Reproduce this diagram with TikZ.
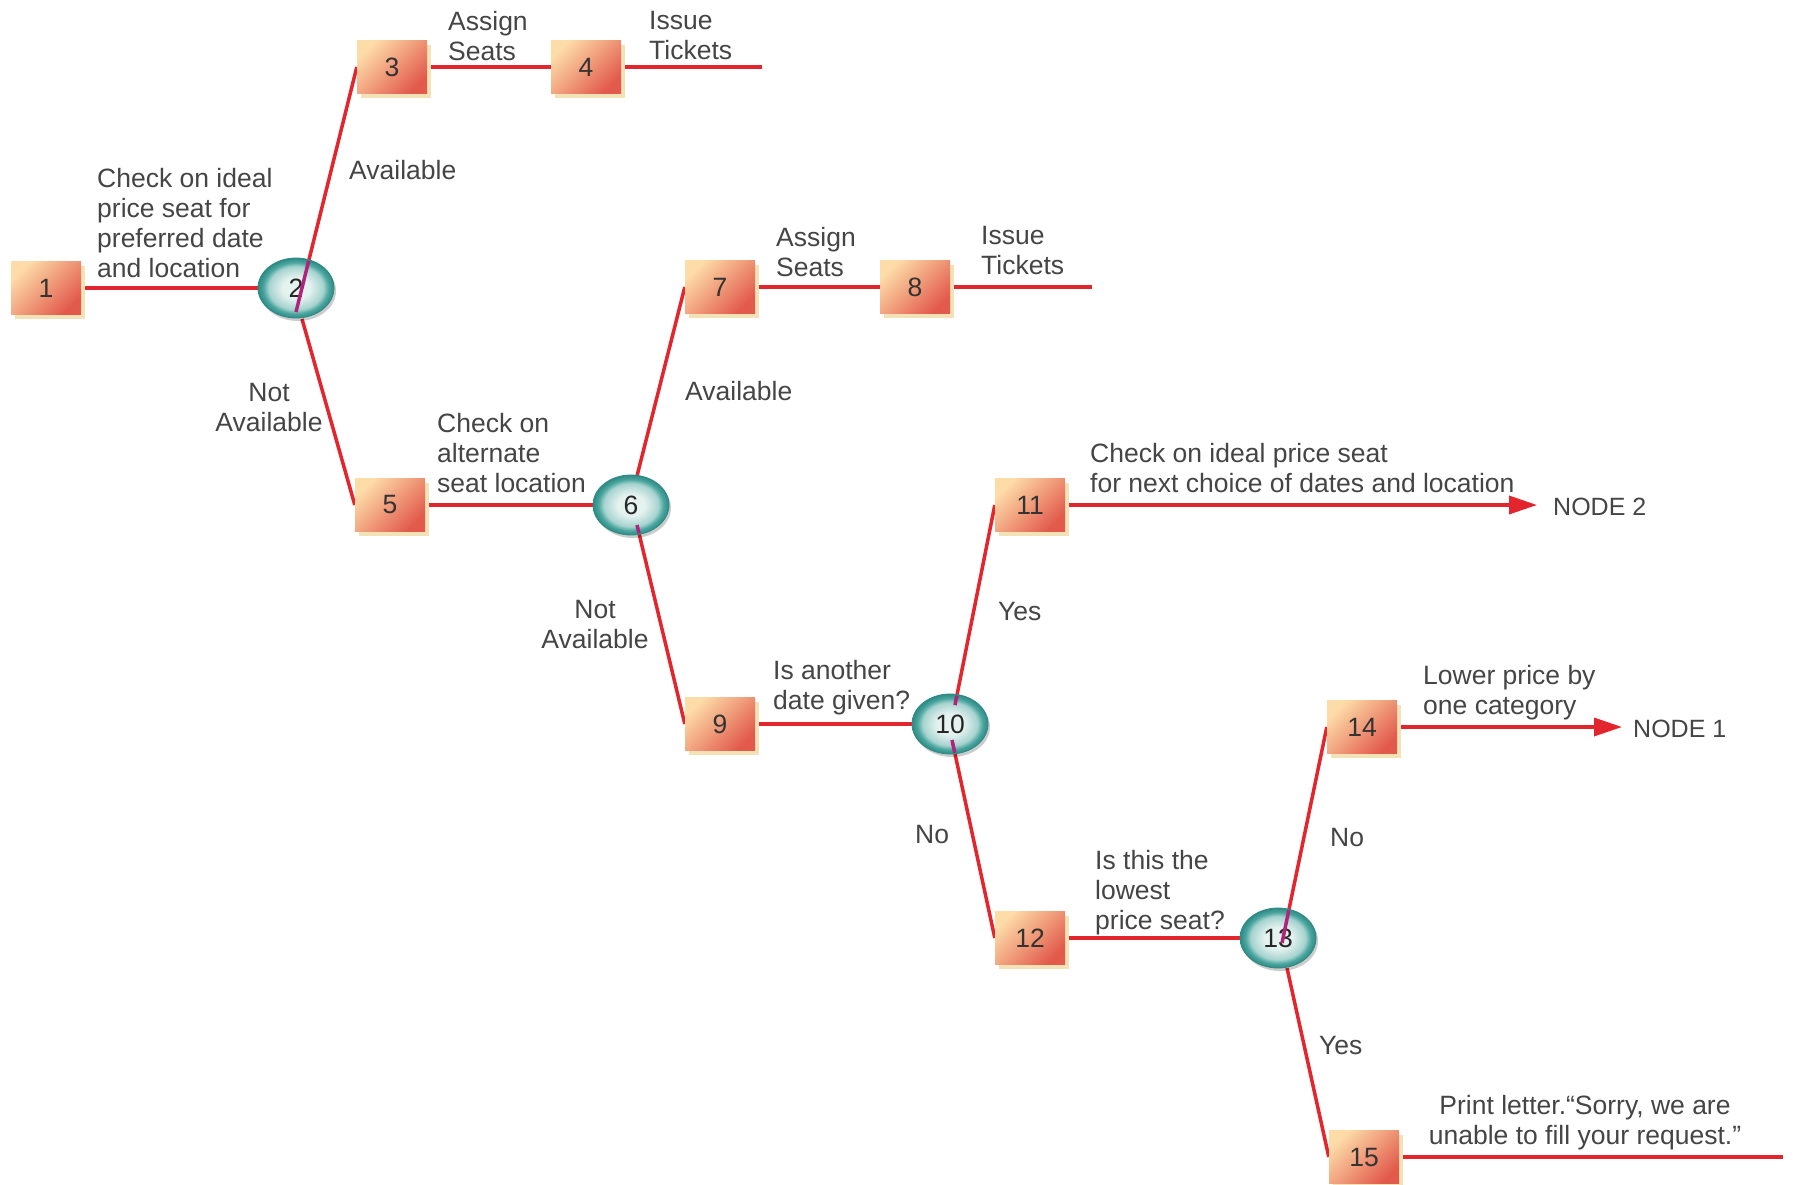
\documentclass[tikz,border=0pt]{standalone}
\usepackage{fontspec}
\setmainfont{Liberation Sans}
\usetikzlibrary{shapes.geometric,arrows.meta,calc,shadows}
\definecolor{redline}{HTML}{E3262E}
\definecolor{magline}{HTML}{B0237A}
\definecolor{boxtop}{HTML}{FDDCA8}
\definecolor{boxbot}{HTML}{E25A4C}
\definecolor{boxshadow}{HTML}{F3E2B6}
\definecolor{coutd}{HTML}{2E8A84}
\definecolor{cout}{HTML}{4AA59F}
\definecolor{cmid}{HTML}{A6D3CF}
\definecolor{cin}{HTML}{E4F2F0}
\definecolor{txt}{HTML}{454545}
\pgfdeclareradialshading{circshade}{\pgfpoint{0bp}{0bp}}{color(0bp)=(cin); color(9bp)=(cin); color(18bp)=(cmid); color(21.5bp)=(cout); color(25bp)=(coutd); color(50bp)=(coutd)}
\pgfdeclarelayer{bg}
\pgfdeclarelayer{fg}
\pgfsetlayers{bg,main,fg}
\begin{document}
\begin{tikzpicture}[x=1pt,y=-1pt,
  every node/.style={font=\fontsize{26.5}{30}\selectfont, text=txt},
  box/.style={rectangle, minimum width=70pt, minimum height=53pt, inner sep=0pt,
    top color=boxtop, bottom color=boxbot, shading angle=45,
    drop shadow={shadow xshift=4pt, shadow yshift=-4pt, fill=boxshadow, opacity=1},
    text=black!80},
  dec/.style={ellipse, minimum width=76pt, minimum height=60pt, inner sep=0pt,
    shade, shading=circshade, draw=coutd, line width=0.8pt,
    drop shadow={shadow xshift=2pt, shadow yshift=-3pt, fill=black, opacity=0.2},
    text=black!85},
  lbl/.style={anchor=north west, inner sep=0pt, align=left},
  clbl/.style={anchor=north, inner sep=0pt, align=center},
  link/.style={draw=redline, line width=3.5pt},
  arr/.style={link, -{Triangle[length=28pt,width=18pt]}},
  mag/.style={draw=magline, line width=3.5pt},
  endlbl/.style={anchor=base west, inner sep=0pt, font=\fontsize{25}{29}\selectfont}
]
\begin{pgfonlayer}{bg}
\fill[white] (0,0) rectangle (1795,1184);
\end{pgfonlayer}
\useasboundingbox (0,0) rectangle (1795,1184);

% nodes
\node[box] (b1) at (46,288) {1};
\node[dec] (c2) at (296,288) {2};
\node[box] (b3) at (392,67) {3};
\node[box] (b4) at (586,67) {4};
\node[box] (b5) at (390,505) {5};
\node[dec] (c6) at (631,505) {6};
\node[box] (b7) at (720,287) {7};
\node[box] (b8) at (915,287) {8};
\node[box] (b9) at (720,724) {9};
\node[dec] (c10) at (950,724) {10};
\node[box] (b11) at (1030,505) {11};
\node[box] (b12) at (1030,938) {12};
\node[dec] (c13) at (1278,938) {13};
\node[box] (b14) at (1362,727) {14};
\node[box] (b15) at (1364,1157) {15};

% free ends and inner start points
\coordinate (e4) at (762,67);
\coordinate (e8) at (1092,287);
\coordinate (e11) at (1537,505);
\coordinate (e14) at (1622,727);
\coordinate (e15) at (1783,1157);
\coordinate (c2u) at ($(c2.center)+(0,24)$);
\coordinate (c2d) at ($(c2.center)+(6,31)$);
\coordinate (c6u) at ($(c6.center)+(6,-29)$);
\coordinate (c6d) at ($(c6.center)+(6,20)$);
\coordinate (c10u) at ($(c10.center)+(5,-19)$);
\coordinate (c10d) at ($(c10.center)+(2,16)$);
\coordinate (c13u) at ($(c13.center)+(4,5)$);
\coordinate (c13d) at ($(c13.center)+(9,30)$);

% connectors
\begin{pgfonlayer}{bg}
\draw[link] (b1) -- (c2);
\draw[link] (c2u) -- (b3.west);
\draw[link] (b3) -- (b4);
\draw[link] (b4) -- (e4);
\draw[link] (c2d) -- (b5.west);
\draw[link] (b5) -- (c6);
\draw[link] (c6u) -- (b7.west);
\draw[link] (b7) -- (b8);
\draw[link] (b8) -- (e8);
\draw[link] (c6d) -- (b9.west);
\draw[link] (b9) -- (c10);
\draw[link] (c10u) -- (b11.west);
\draw[arr] (b11) -- (e11);
\draw[link] (c10d) -- (b12.west);
\draw[link] (b12) -- (c13);
\draw[link] (c13u) -- (b14.west);
\draw[arr] (b14) -- (e14);
\draw[link] (c13d) -- (b15.west);
\draw[link] (b15) -- (e15);
\end{pgfonlayer}

% line seen through the decision circles
\begin{pgfonlayer}{fg}
\begin{scope}
\clip (c2.center) ellipse [x radius=37pt, y radius=29pt];
\draw[mag] (c2u) -- (b3.west);
\end{scope}
\begin{scope}
\clip (c6.center) ellipse [x radius=37pt, y radius=29pt];
\draw[mag] (c6u) -- (b7.west);
\draw[mag] (c6d) -- (b9.west);
\end{scope}
\begin{scope}
\clip (c10.center) ellipse [x radius=37pt, y radius=29pt];
\draw[mag] (c10u) -- (b11.west);
\draw[mag] (c10d) -- (b12.west);
\end{scope}
\begin{scope}
\clip (c13.center) ellipse [x radius=37pt, y radius=29pt];
\draw[mag] (c13u) -- (b14.west);
\end{scope}
\end{pgfonlayer}

% labels
\node[lbl] (t1) at (97,168) {Check on ideal\\price seat for\\preferred date\\and location};
\node[lbl] (t3) at (448,11) {Assign\\Seats};
\node[lbl] (t4) at (649,11) {Issue\\Tickets};
\node[lbl] (ta1) at (349,160) {Available};
\node[clbl] (tn1) at (269,383) {Not\\Available};
\node[lbl] (t5) at (437,413) {Check on\\alternate\\seat location};
\node[lbl] (t7) at (776,227) {Assign\\Seats};
\node[lbl] (t8) at (981,226) {Issue\\Tickets};
\node[lbl] (ta2) at (685,381) {Available};
\node[clbl] (tn2) at (595,600) {Not\\Available};
\node[lbl] (t11) at (1090,443) {Check on ideal price seat\\for next choice of dates and location};
\node[lbl] (ty1) at (998,602) {Yes};
\node[lbl] (t9) at (773,660) {Is another\\date given?};
\node[lbl] (tno1) at (915,825) {No};
\node[lbl] (t12) at (1095,850) {Is this the\\lowest\\price seat?};
\node[lbl] (t14) at (1423,665) {Lower price by\\one category};
\node[lbl] (tno2) at (1330,828) {No};
\node[lbl] (ty2) at (1319,1036) {Yes};
\node[clbl] (t15) at (1585,1095) {Print letter.“Sorry, we are\\unable to fill your request.”};
\node[endlbl] (n2) at (1553,515) {NODE 2};
\node[endlbl] (n1) at (1633,737) {NODE 1};
\end{tikzpicture}
\end{document}
